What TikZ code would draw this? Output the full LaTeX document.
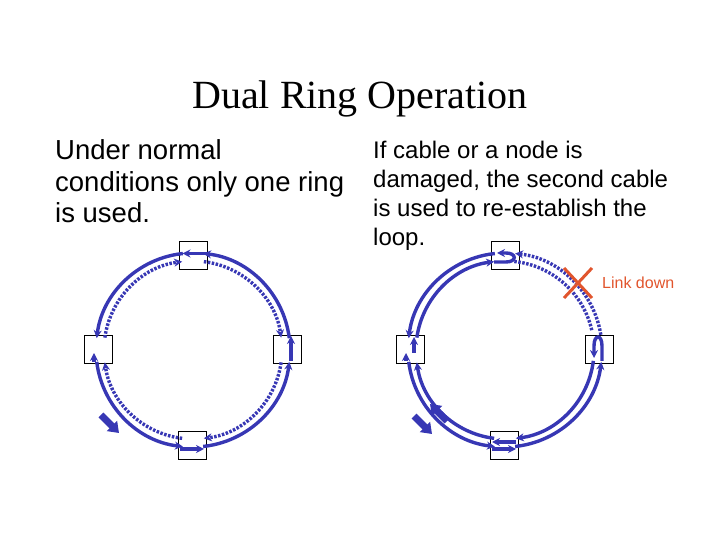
\documentclass[tikz,border=0pt]{standalone}
\usepackage{fontspec}
\setmainfont{Liberation Sans}
\newfontfamily\titlefont{Liberation Serif}
\usetikzlibrary{arrows.meta}
\definecolor{ringblue}{RGB}{55,55,180}
\definecolor{linkred}{RGB}{225,85,45}
\tikzset{
  ring/.style={draw=ringblue,line width=3.4pt,-{Stealth[length=8pt,width=8pt]}},
  dotring/.style={ring,dash pattern=on 2.5pt off 1.5pt},
  bigarrow/.style={draw=ringblue,line width=7pt,-{Triangle[length=10pt,width=14pt]}},
  box/.style={draw=black,line width=0.7pt,minimum width=28pt,minimum height=28pt,inner sep=0pt},
  txt/.style={anchor=base west,inner sep=0pt}
}
\begin{document}
\begin{tikzpicture}[x=1pt,y=1pt]
\useasboundingbox (0,0) rectangle (720,540);
\node[inner sep=0pt] (title) at (360,441) {\titlefont\fontsize{40}{44}\selectfont Dual Ring Operation};
\node[txt] (l1) at (55,380) {\fontsize{27.5}{30}\selectfont Under normal};
\node[txt] (l2) at (55,348) {\fontsize{27.5}{30}\selectfont conditions only one ring};
\node[txt] (l3) at (55,317) {\fontsize{27.5}{30}\selectfont is used.};
\node[txt] (r1) at (373,381) {\fontsize{24}{27}\selectfont If cable or a node is};
\node[txt] (r2) at (373,352) {\fontsize{24}{27}\selectfont damaged, the second cable};
\node[txt] (r3) at (373,323) {\fontsize{24}{27}\selectfont is used to re-establish the};
\node[txt] (r4) at (373,294) {\fontsize{24}{27}\selectfont loop.};

% ---------- left ring ----------
\coordinate (cl) at (193,190);
\node[box] (lt) at (193.5,284.5) {};
\node[box] (ll) at (98,191) {};
\node[box] (lr) at (287,191) {};
\node[box] (lb) at (192,95) {};
\path[ring] ([shift={(cl)}]96:97) arc[start angle=96,end angle=173,radius=97];
\path[ring] ([shift={(cl)}]187:97) arc[start angle=187,end angle=264,radius=97];
\path[ring] ([shift={(cl)}]276:97) arc[start angle=276,end angle=353,radius=97];
\path[ring] ([shift={(cl)}]7:97) arc[start angle=7,end angle=84,radius=97];
\path[dotring] ([shift={(cl)}]172:89) arc[start angle=172,end angle=97,radius=89];
\path[dotring] ([shift={(cl)}]83:89) arc[start angle=83,end angle=8,radius=89];
\path[dotring] ([shift={(cl)}]352:89) arc[start angle=352,end angle=277,radius=89];
\path[dotring] ([shift={(cl)}]263:89) arc[start angle=263,end angle=188,radius=89];
\path[ring] ([xshift=13pt,yshift=2pt]lt.center) -- ([xshift=-11pt,yshift=2pt]lt.center);
\path[ring] ([xshift=-4pt,yshift=-13pt]ll.center) -- ([xshift=-4pt,yshift=-4pt]ll.center);
\path[ring] ([xshift=-12pt,yshift=-4pt]lb.center) -- ([xshift=12pt,yshift=-4pt]lb.center);
\path[ring] ([xshift=4pt,yshift=-12pt]lr.center) -- ([xshift=4pt,yshift=13pt]lr.center);
\path[bigarrow] (101,125) -- (119,107);

% ---------- right ring ----------
\coordinate (cr) at (505,190);
\node[box] (rt) at (505,284.5) {};
\node[box] (rl) at (410,191) {};
\node[box] (rr) at (599.5,191) {};
\node[box] (rb) at (504,95) {};
\path[ring] ([shift={(cr)}]96:97) arc[start angle=96,end angle=173,radius=97];
\path[ring] ([shift={(cr)}]187:97) arc[start angle=187,end angle=264,radius=97];
\path[ring] ([shift={(cr)}]276:97) arc[start angle=276,end angle=353,radius=97];
\path[ring] ([shift={(cr)}]353:89) arc[start angle=353,end angle=277,radius=89];
\path[ring] ([shift={(cr)}]263:89) arc[start angle=263,end angle=188,radius=89];
\path[ring] ([shift={(cr)}]172:89) arc[start angle=172,end angle=97,radius=89];
\path[dotring] ([shift={(cr)}]9:97) arc[start angle=9,end angle=84,radius=97];
\path[dotring,-] ([shift={(cr)}]84:89) arc[start angle=84,end angle=12,radius=89];
\path[ring] (494,278) -- (506,278) .. controls (517,278) and (517,287) .. (506,287) -- (497,287);
\path[ring] (602,179) -- (602,194) .. controls (602,206) and (594,206) .. (594,194) -- (594,182);
\path[ring] ([xshift=-4pt,yshift=-12pt]rl.center) -- ([xshift=-4pt,yshift=-4pt]rl.center);
\path[ring] ([xshift=4pt,yshift=-4pt]rl.center) -- ([xshift=4pt,yshift=12pt]rl.center);
\path[ring] ([xshift=12pt,yshift=3pt]rb.center) -- ([xshift=-12pt,yshift=3pt]rb.center);
\path[ring] ([xshift=-12pt,yshift=-4pt]rb.center) -- ([xshift=12pt,yshift=-4pt]rb.center);
\path[bigarrow] (414,124) -- (432,106);
\path[bigarrow] (447,119) -- (430,136);

% link down
\coordinate (xc) at (578,257);
\draw[linkred,line width=3pt] (564,272) -- (592,242) (564,242) -- (592,272);
\node[txt,text=linkred] (ld) at (602,251) {\fontsize{16}{18}\selectfont Link down};
\end{tikzpicture}
\end{document}
